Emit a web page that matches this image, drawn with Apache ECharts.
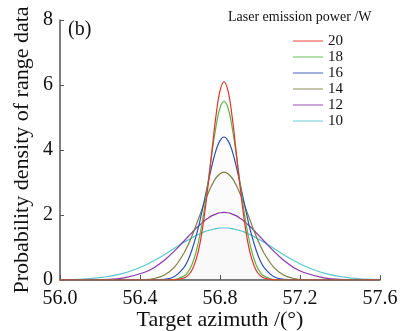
<!DOCTYPE html>
<html>
<head>
<meta charset="utf-8">
<script src="https://cdn.jsdelivr.net/npm/echarts@6/dist/echarts.min.js"></script>
<style>
  html, body { margin: 0; padding: 0; background: #fff; }
  #chart { width: 402px; height: 331px; }
</style>
</head>
<body>
<div id="chart"></div>
<script>
// 横坐标：目标方位角
var azimuth = [56.00, 56.12, 56.22, 56.32, 56.42, 56.47, 56.52, 56.57, 56.62, 56.64, 56.66, 56.68,
  56.70, 56.72, 56.74, 56.76, 56.78, 56.80, 56.82, 56.84, 56.86, 56.88, 56.90, 56.92, 56.94,
  56.96, 56.98, 57.00, 57.02, 57.07, 57.12, 57.17, 57.22, 57.32, 57.42, 57.52, 57.60];

var powerNames = ["20", "18", "16", "14", "12", "10"];

// 各功率下的概率密度
var p20 = [0, 0, 0, 0, 0, 0, 0, 0.004, 0.06, 0.14, 0.31, 0.62, 1.13, 1.90, 2.89, 4.00, 5.06, 5.82,
  6.10, 5.82, 5.06, 4.00, 2.89, 1.90, 1.13, 0.62, 0.31, 0.14, 0.06, 0.004, 0, 0, 0, 0, 0, 0, 0];
var p18 = [0, 0, 0, 0, 0, 0, 0.001, 0.014, 0.12, 0.25, 0.48, 0.85, 1.40, 2.12, 2.99, 3.91, 4.72, 5.30,
  5.50, 5.30, 4.72, 3.91, 2.99, 2.12, 1.40, 0.85, 0.48, 0.25, 0.12, 0.014, 0.001, 0, 0, 0, 0, 0, 0];
var p16 = [0, 0, 0, 0, 0, 0.003, 0.019, 0.10, 0.39, 0.61, 0.93, 1.34, 1.83, 2.40, 2.98, 3.53, 3.99, 4.29,
  4.40, 4.29, 3.99, 3.53, 2.98, 2.40, 1.83, 1.34, 0.93, 0.61, 0.39, 0.10, 0.019, 0.003, 0, 0, 0, 0, 0];
var p14 = [0, 0, 0, 0.001, 0.013, 0.047, 0.146, 0.38, 0.83, 1.08, 1.36, 1.68, 2.01, 2.35, 2.66, 2.93, 3.14, 3.27,
  3.32, 3.27, 3.14, 2.93, 2.66, 2.35, 2.01, 1.68, 1.36, 1.08, 0.83, 0.38, 0.146, 0.047, 0.013, 0.001, 0, 0, 0];
var p12 = [0, 0.002, 0.014, 0.065, 0.23, 0.38, 0.60, 0.88, 1.20, 1.33, 1.46, 1.59, 1.70, 1.81, 1.90, 1.98, 2.03, 2.07,
  2.08, 2.07, 2.03, 1.98, 1.90, 1.81, 1.70, 1.59, 1.46, 1.33, 1.20, 0.88, 0.60, 0.38, 0.23, 0.065, 0.014, 0.002, 0];
var p10 = [0.007, 0.031, 0.088, 0.21, 0.44, 0.60, 0.77, 0.97, 1.16, 1.23, 1.30, 1.37, 1.42, 1.48, 1.52, 1.55, 1.58, 1.60,
  1.60, 1.60, 1.58, 1.55, 1.52, 1.48, 1.42, 1.37, 1.30, 1.23, 1.16, 0.97, 0.77, 0.60, 0.44, 0.21, 0.088, 0.031, 0.012];

var colors = ["#e8302a", "#58b848", "#3050b8", "#7e7e46", "#8838a8", "#58c8d0"];
var allData = [p20, p18, p16, p14, p12, p10];

var font = "Liberation Serif";
var myChart = echarts.init(document.getElementById("chart"));

var series = [];
for (var i = 0; i < allData.length; i++) {
  var pts = [];
  for (var j = 0; j < azimuth.length; j++) {
    pts.push([azimuth[j], allData[i][j]]);
  }
  series.push({
    name: powerNames[i],
    type: "line",
    data: pts,
    smooth: 0.4,
    symbol: "none",
    lineStyle: { color: colors[i], width: 1.2 },
    itemStyle: { color: colors[i] },
    areaStyle: { color: "rgba(0,0,0,0.005)" },
    z: 10 - i
  });
}

var option = {
  animation: false,
  backgroundColor: "#fff",
  color: colors,
  grid: { left: 60, right: 22, top: 20, bottom: 51, containLabel: false, outerBoundsMode: "none" },
  legend: {
    orient: "vertical",
    left: 288,
    top: 28,
    icon: "rect",
    itemWidth: 30,
    itemHeight: 1.5,
    itemGap: 0,
    itemStyle: { opacity: 0.6 },
    textStyle: { fontFamily: font, fontSize: 15, color: "#111", lineHeight: 16 },
    data: powerNames
  },
  graphic: [
    {
      type: "text", left: 228, top: 10,
      style: { text: "Laser emission power /W", font: "14px " + font, fill: "#111" }
    },
    {
      type: "text", left: 68, top: 20,
      style: { text: "(b)", font: "20px " + font, fill: "#111" }
    }
  ],
  xAxis: {
    type: "value",
    min: 56.0,
    max: 57.6,
    interval: 0.4,
    name: "Target azimuth /(°)",
    nameLocation: "middle",
    nameGap: 29,
    nameMoveOverlap: false,
    nameTextStyle: { fontFamily: font, fontSize: 22, color: "#111" },
    axisLine: { show: true, lineStyle: { color: "#555", width: 1.5 } },
    axisTick: { show: true, inside: true, length: 5, lineStyle: { color: "#555" } },
    axisLabel: {
      margin: 9,
      fontFamily: font,
      fontSize: 20,
      color: "#111",
      formatter: function (v) { return v.toFixed(1); }
    },
    splitLine: { show: false }
  },
  yAxis: {
    type: "value",
    min: 0,
    max: 8,
    interval: 2,
    name: "Probability density of range data",
    nameLocation: "middle",
    nameGap: 27,
    nameMoveOverlap: false,
    nameTextStyle: { fontFamily: font, fontSize: 22, color: "#111" },
    axisLine: { show: true, lineStyle: { color: "#555", width: 1.5 } },
    axisTick: { show: true, inside: true, length: 4, lineStyle: { color: "#555" } },
    axisLabel: { margin: 7, fontFamily: font, fontSize: 20, color: "#111" },
    splitLine: { show: false }
  },
  series: series
};

myChart.setOption(option, true);
</script>
</body>
</html>
